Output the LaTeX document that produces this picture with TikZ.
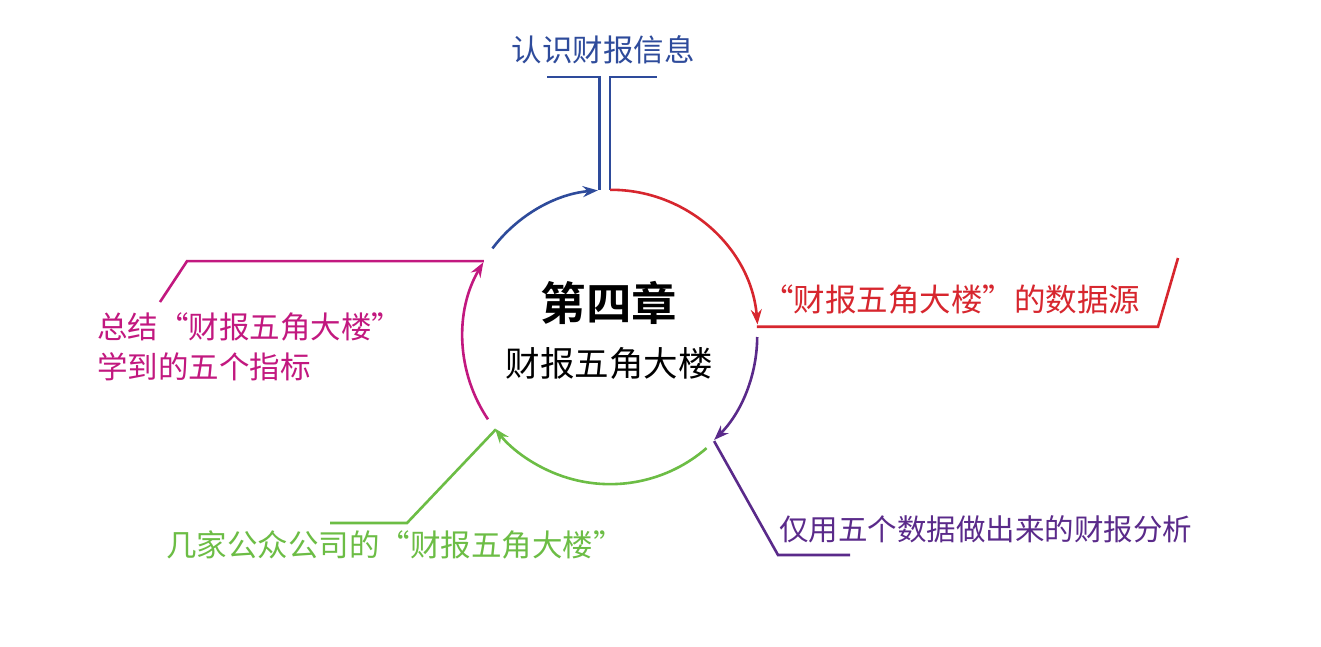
\documentclass[tikz,border=0pt]{standalone}
\usepackage{fontspec}
\newfontfamily\cjk{Noto Sans CJK SC}
\newfontfamily\cjkbold{Noto Sans CJK SC Bold}
\usetikzlibrary{arrows.meta}
\definecolor{cblue}{HTML}{2E4B9B}
\definecolor{cred}{HTML}{D7262E}
\definecolor{cpurple}{HTML}{5A2A8A}
\definecolor{cgreen}{HTML}{6CBD45}
\definecolor{cmag}{HTML}{C2187F}
\tikzset{
  conn/.style={line width=2.6pt, line cap=butt, line join=miter},
  tip/.style={-{Stealth[length=15pt,width=11pt,inset=5pt]}},
  lbl/.style={inner sep=0pt, font=\cjk\fontsize{30.5}{40}\selectfont},
}
\begin{document}
\begin{tikzpicture}[x=1pt,y=1pt]
\useasboundingbox (0,0) rectangle (1321,-646);
\fill[white] (0,0) rectangle (1321,-646);

\node[circle, minimum size=294pt, inner sep=0pt] (c) at (610,-337) {};
\node[inner sep=0pt, font=\cjkbold\fontsize{45.5}{50}\selectfont] (t1) at (609,-303) {第四章};
\node[inner sep=0pt, font=\cjk\fontsize{34.5}{40}\selectfont] (t2) at (609,-363) {财报五角大楼};

% labels
\node[lbl, text=cblue] (lb) at (603,-50) {认识财报信息};
\node[lbl, text=cred, anchor=west, font=\cjk\fontsize{31.5}{40}\selectfont] (lr) at (762,-300) {“财报五角大楼”的数据源};
\node[lbl, text=cpurple, anchor=west, font=\cjk\fontsize{29.5}{40}\selectfont] (lp) at (779,-529) {仅用五个数据做出来的财报分析};
\node[lbl, text=cgreen, anchor=west] (lg) at (166,-545) {几家公众公司的“财报五角大楼”};
\node[lbl, text=cmag, anchor=west, align=left] (lm) at (97,-347) {总结“财报五角大楼”\\学到的五个指标};

% coordinates of free ends
\coordinate (bT1) at (598,-77);
\coordinate (bT1e) at (547,-77);
\coordinate (bT2) at (609,-77);
\coordinate (bT2e) at (657,-77);
\coordinate (r1) at (1158,-325);
\coordinate (r2) at (1178,-258);
\coordinate (p1) at (778,-555);
\coordinate (p2) at (850,-555);
\coordinate (g1) at (407,-523);
\coordinate (g2) at (330,-523);
\coordinate (m1) at (187,-262);
\coordinate (m2) at (160,-302);

% blue
\draw[conn, cblue, tip] (c.143) arc[start angle=143, end angle=94.7, radius=147];
\draw[conn, cblue] (c.94.7) -- (c.94.7 |- bT1) -- (bT1e);
\draw[conn, cblue] (c.90.4) -- (c.90.4 |- bT2) -- (bT2e);
% red
\draw[conn, cred, tip] (c.90.4) arc[start angle=90.4, end angle=4.8, radius=147];
\draw[conn, cred] (c.4.8) -- (c.4.8 -| r1) -- (r2);
% purple
\draw[conn, cpurple, tip] (c.-0.4) arc[start angle=-0.4, end angle=-45, radius=147];
\draw[conn, cpurple] (c.-45) -- (p1) -- (p2);
% green
\draw[conn, cgreen, tip] (c.-49) arc[start angle=-49, end angle=-141.6, radius=147];
\draw[conn, cgreen] (c.-141.6) -- (g1) -- (g2);
% magenta
\draw[conn, cmag, tip] (c.214) arc[start angle=214, end angle=149.4, radius=147];
\draw[conn, cmag] (c.149.4) -- (c.149.4 -| m1) -- (m2);
\end{tikzpicture}
\end{document}
